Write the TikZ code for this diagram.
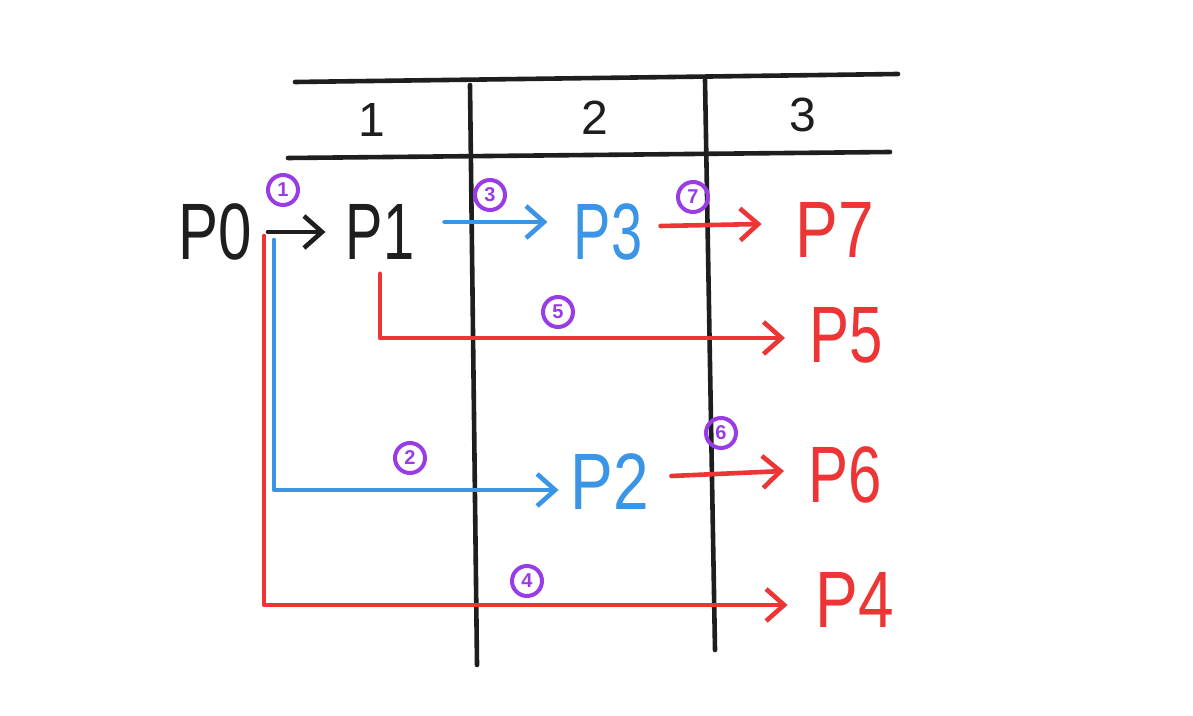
\documentclass[tikz,border=0pt]{standalone}
\usepackage{fontspec}
\setmainfont{Liberation Sans}
\usetikzlibrary{arrows.meta}
\definecolor{ink}{HTML}{1E1E1E}
\definecolor{blu}{HTML}{3A95E6}
\definecolor{rd}{HTML}{EE3535}
\definecolor{pur}{HTML}{9A3CE6}
\begin{document}
\begin{tikzpicture}[x=0.5pt,y=-0.5pt,
  line width=2.3pt, line cap=round, line join=round,
  arr/.style={-{Straight Barb[length=9pt,width=16pt,line width=2.3pt]}},
  pn/.style={inner sep=0pt, font=\fontsize{40}{40}\selectfont},
  num/.style={circle, draw=pur, line width=2pt, text=pur, inner sep=0pt, minimum size=15pt, font=\bfseries\fontsize{10}{10}\selectfont},
  hdr/.style={font=\fontsize{24}{24}\selectfont, text=ink}]
\useasboundingbox (0,0) rectangle (1193,716);
\fill[white] (0,0) rectangle (1193,716);
% table
\draw[ink] (295,82) -- (898,74);
\draw[ink] (288,158) -- (890,152);
\draw[ink] (470,85) -- (477,665);
\draw[ink] (705,80) -- (715,650);
\node[hdr] (h1) at (372,120) {1};
\node[hdr] (h2) at (595,118) {2};
\node[hdr] (h3) at (803,115) {3};
% nodes
\node[pn,text=ink] (p0) at (215,232) {\scalebox{0.75}[1]{P0}};
\node[pn,text=ink] (p1) at (380,232) {\scalebox{0.7}[1]{P1}};
\node[pn,text=blu] (p3) at (608,232) {\scalebox{0.7}[1]{P3}};
\node[pn,text=rd] (p7) at (835,230) {\scalebox{0.8}[1]{P7}};
\node[pn,text=rd] (p5) at (846,335) {\scalebox{0.75}[1]{P5}};
\node[pn,text=blu] (p2) at (610,482) {\scalebox{0.8}[1]{P2}};
\node[pn,text=rd] (p6) at (845,475) {\scalebox{0.75}[1]{P6}};
\node[pn,text=rd] (p4) at (855,600) {\scalebox{0.8}[1]{P4}};
% connectors
\draw[ink,arr] ([xshift=7pt]p0.east) -- ([xshift=-9pt]p1.west);
\draw[blu,arr] ([xshift=14pt,yshift=5pt]p1.east) -- ([xshift=-12pt,yshift=5pt]p3.west);
\draw[rd,arr] ([xshift=8pt,yshift=3pt]p3.east) -- ([xshift=-16pt,yshift=3pt]p7.west);
\draw[rd,arr] ([yshift=-6pt]p1.south) |- ([xshift=-11pt,yshift=-1.5pt]p5.west);
\draw[blu,arr] ([xshift=10pt,yshift=-4pt]p0.east) |- ([xshift=-5pt,yshift=-4pt]p2.west);
\draw[rd,arr] ([xshift=10pt,yshift=3pt]p2.east) -- ([xshift=-11pt,yshift=2pt]p6.west);
\draw[rd,arr] ([xshift=5pt,yshift=-2pt]p0.east) |- ([xshift=-13pt,yshift=-2.5pt]p4.west);
% step numbers
\node[num] (n1) at (283,190) {1};
\node[num] (n2) at (410,458) {2};
\node[num] (n3) at (490,195) {3};
\node[num] (n4) at (527,581) {4};
\node[num] (n5) at (558,312) {5};
\node[num] (n6) at (721,433) {6};
\node[num] (n7) at (693,197) {7};
\end{tikzpicture}
\end{document}
